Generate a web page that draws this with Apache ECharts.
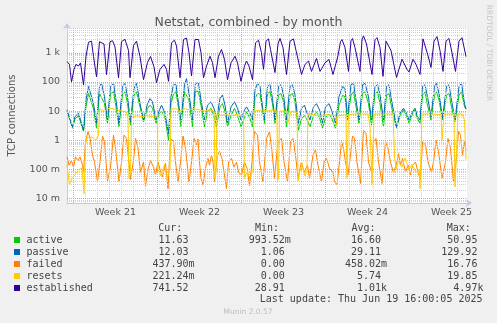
<!DOCTYPE html>
<html><head><meta charset="utf-8">
<script src="https://cdn.jsdelivr.net/npm/echarts@6/dist/echarts.min.js"></script>
<style>html,body{margin:0;padding:0;background:#f0f0f0}#c{width:497px;height:323px}</style>
</head><body><div id="c"></div>
<script>
// x values: hours from the start of the one-month window (left edge of the plot)
const windowHours = 800;
const weekLabels = ['Week 21', 'Week 22', 'Week 23', 'Week 24', 'Week 25'];
const weekLabelHours = [97, 265, 433, 601, 769];
const weekStartHours = [13, 181, 349, 517, 685];
const dayStartHours = [13,37,61,85,109,133,157,181,205,229,253,277,301,325,349,373,397,421,445,469,493,517,541,565,589,613,637,661,685,709,733,757,781];
const yTickValues = [0.01, 0.1, 1, 10, 100, 1000];
const yTickLabels = ['10 m', '100 m', '1', '10', '100', '1 k'];
const yMinLog = -2.15, yMaxLog = 3.85;

const active = [[0,10],[6,5],[11,2.6],[16,5.5],[23,7],[27,6],[33,2],[38,14],[43,40],[47,46],[53,12],[59,2.6],[65,40],[69,46],[75,18],[81,3.8],[87,40],[93,46],[98,14],[104,2.9],[111,38],[116,46],[121,18],[127,3.3],[134,35],[139,46],[146,14],[153,4.3],[161,12.5],[166,16],[171,12.5],[178,3.8],[185,8.5],[189,10],[196,6],[203,1.0],
[208,18],[213,40],[218,46],[223,12.5],[228,2.9],[235,46],[239,51],[244,24],[251,2.9],[257,50],[263,46],[268,16],[275,2.9],[281,9.5],[288,12.5],[295,6],[299,2.9],[306,14],[311,18],[316,9.5],[321,2.9],[328,7],[335,12.5],[341,7],[348,2.9],[355,6],[359,9.5],[366,5.5],[371,2.9],[376,27],[381,40],[386,40],[391,11],[395,3.8],
[401,40],[406,46],[411,18],[416,3.8],[423,35],[428,40],[433,21],[439,2.9],[446,35],[451,40],[456,21],[463,2.2],[469,5.5],[475,7],[479,5.5],[486,2.9],[493,7],[499,9.5],[505,6],[511,2.6],[517,6],[524,8],[529,6],[537,2.6],[544,16],[551,35],[556,31],[561,5],[568,35],[573,46],[577,18],[584,3.8],[591,40],[596,46],[603,18],[609,3.3],[616,40],[621,46],[626,18],[633,2.9],[639,35],[644,40],[649,14],[659,2.6],[666,7],[673,11],[679,7],[684,3.8],[691,8],[696,11],[701,5.5],[706,3.8],[711,35],[716,46],[721,16],[728,5],[735,35],[739,46],[744,24],[751,5],[759,35],[764,40],[769,14],[776,4.3],[784,35],[789,46],[795,14],[798,11.6]];

const passive = [[0,11],[6,5],[11,2.9],[16,6.5],[23,8.5],[27,7.4],[33,2.2],[38,24],[43,70],[47,80],[53,18],[59,3.8],[65,70],[69,90],[75,31],[81,5],[87,70],[93,90],[98,24],[104,3.8],[111,70],[116,90],[121,31],[127,4.3],[134,60],[139,90],[146,18],[153,5],[161,18],[166,27],[171,21],[178,5],[185,11],[189,16],[196,8.5],[203,1.7],
[208,31],[213,80],[218,80],[223,18],[228,5],[235,80],[239,130],[244,40],[251,5],[257,90],[263,90],[268,24],[275,5],[281,16],[288,21],[295,11],[299,5],[306,27],[311,36],[316,16],[321,3.8],[328,14],[335,21],[341,12.5],[348,5],[355,11],[359,14],[366,8.5],[371,5],[376,53],[381,90],[386,70],[391,14],[395,5],
[401,70],[406,80],[411,27],[416,5],[423,70],[428,80],[433,36],[439,5],[446,70],[451,80],[456,36],[463,3.8],[469,12.5],[475,16],[479,9.5],[486,5],[493,14],[499,18],[505,11],[511,3.8],[517,14],[524,18],[529,11],[537,3.8],[544,31],[551,70],[556,60],[561,6.5],[568,80],[573,90],[577,31],[584,5],[591,80],[596,90],[603,31],[609,5],[616,70],[621,80],[626,36],[633,5],[639,70],[644,80],[649,24],[659,2.9],[666,8.5],[673,12.5],[679,8.5],[684,5],[691,9.5],[696,12.5],[701,6.5],[706,5],[711,70],[716,80],[721,31],[728,6.5],[735,70],[739,90],[744,40],[751,5.7],[759,70],[764,80],[769,24],[776,5],[784,70],[789,90],[795,18],[798,12]];

const failed = [[0,0.27],[4,0.14],[9,0.2],[13,0.12],[17,0.27],[22,0.2],[26,0.27],[31,0.14],[33,0.08],[37,0.9],[42,2],[46,1.2],[51,0.31],[55,0.18],[61,0.038],[66,0.18],[71,1.4],[75,0.9],[81,0.04],[87,0.12],[93,1.5],[97,0.53],[104,0.038],[109,0.18],[114,1.5],[119,1.16],[124,0.16],[127,0.045],[133,0.2],[137,1.16],[142,0.53],[147,0.08],[153,0.18],[157,0.027],[162,0.1],[167,0.2],[173,0.12],[177,0.065],[182,0.18],[186,0.1],[191,0.055],[197,0.16],[202,0.022],
[207,1.16],[213,0.9],[217,0.18],[222,0.038],[227,0.18],[232,1.4],[237,0.53],[244,0.038],[249,0.18],[254,1.16],[259,0.69],[262,1.1],[265,0.18],[268,0.05],[272,0.03],[277,0.11],[282,0.24],[285,0.14],[289,0.31],[292,0.18],[295,0.038],[301,0.31],[305,0.41],[310,0.24],[314,0.08],[319,0.022],[323,0.18],[329,0.24],[334,0.12],[339,0.18],[343,0.08],[349,0.065],[355,0.18],[361,0.1],[365,0.027],[370,0.18],[375,2],[381,1.5],[385,0.18],[392,0.038],[399,1.16],[405,2],[410,0.41],[415,0.05],[422,0.9],[429,1.16],[434,0.18],[441,0.038],[447,0.9],[452,1.16],[457,0.31],[462,0.05],[469,0.18],[474,0.08],[481,0.14],[485,0.05],[492,0.31],[497,0.47],[502,0.14],[509,0.038],[514,0.18],[519,0.24],[525,0.11],[532,0.08],
[535,0.038],[540,0.03],[545,0.18],[549,0.9],[553,0.53],[557,0.18],[562,0.065],[567,0.31],[571,1.4],[575,1.16],[580,0.18],[587,0.033],[593,2.2],[598,1.7],[603,0.18],[609,0.08],[613,0.9],[618,1.16],[623,0.18],[630,0.033],[637,0.9],[642,0.53],[647,0.18],[653,0.075],[660,0.18],[663,0.35],[667,0.14],[671,0.24],[677,0.08],[682,0.14],[687,0.065],[691,0.14],[697,0.18],[702,0.08],[707,0.045],[711,0.9],[717,0.69],[722,0.18],[729,0.08],[733,0.18],[738,1],[743,0.41],[750,0.05],[757,0.18],[762,1.16],[767,0.53],[773,0.038],[778,0.18],[783,2],[787,1.5],[791,0.31],[795,0.9],[798,0.44]];

const resets = [[0,0.14],[5,0.03],[10,0.05],[17,0.07],[24,0.1],[30,0.11],[34,0.015],[37,0.69],[40,1.2],[50,1.3],[58,1.0],[63,1.5],[65,12],[75,10],[85,13],[92,12],[100,11],[110,10],[118,9.5],[122,5.6],[124,0.05],[127,0.08],[129,6],[140,7],[150,6.5],[160,7],[170,6.5],[181,7],[182,0.1],[188,0.06],[195,0.15],[200,0.05],[206,0.1],[208,12],[218,12],[226,10],[235,12],[245,11],[255,12],[265,11],[275,10],[285,11],[294,10],[296,0.05],[298,0.08],[300,8],[310,7],[320,7.5],[330,7],[340,7.5],[353,7],[355,0.05],[360,0.08],[366,0.05],[372,0.1],[374,10],[390,11],[400,10],[410,11],[420,10],[421,0.04],[423,0.05],[425,10],[440,10],[442,4],[446,4],[448,10],[460,9],[462,0.04],[465,0.08],[470,0.15],[476,0.06],[480,0.1],[482,8.5],[500,7],[520,7.5],[538,7],[540,3.3],[542,7],[558,7.5],[560,0.05],[563,7.5],[575,8],[590,8],[602,8],[606,3],[610,0.03],[614,8],[630,8],[652,8],[655,0.3],[658,0.1],[662,0.2],[670,0.12],[676,0.25],[684,0.1],[690,0.15],[698,0.08],[704,0.1],[706,0.022],[710,8],[730,8],[748,7.5],[750,1.0],[754,8],[774,8],[776,0.025],[782,8],[790,8],[795,5],[798,0.22]];

const established = [[0,500],[5,400],[9,100],[14,270],[18,400],[23,350],[27,450],[33,80],[38,750],[43,2300],[49,2500],[53,750],[59,150],[65,2400],[69,2600],[74,2000],[79,180],[86,2400],[91,2600],[96,1600],[103,140],[109,2400],[116,2900],[123,1200],[126,140],[133,1800],[139,2500],[146,750],[153,120],[161,470],[167,750],[174,330],[179,95],[186,270],[194,400],[199,270],[203,105],[209,2200],[215,2700],[219,1700],[226,140],[233,2850],[239,3200],[244,1000],[249,160],[256,2850],[263,2850],[268,1000],[273,140],[279,350],[286,760],[291,455],[296,140],[303,760],[309,1300],[315,590],[321,120],[328,455],[336,760],[341,455],[348,105],[355,350],[359,520],[364,350],[371,120],[377,2200],[383,2700],[389,1000],[393,270],[398,2500],[403,3000],[407,1300],[416,210],[422,2000],[426,3100],[432,1500],[439,180],[446,2500],[453,3000],[458,1200],[469,180],[476,400],[483,520],[489,230],[499,640],[506,230],[516,450],[524,590],[532,180],[542,800],[547,2400],[550,2850],[556,1500],[563,230],[568,2600],[571,3100],[576,1500],[586,230],[590,2800],[593,3800],[599,2000],[610,180],[616,2800],[620,3300],[626,1500],[632,155],[638,2500],[642,2850],[648,1200],[659,143],[670,600],[680,270],[684,220],[692,600],[698,400],[706,180],[712,3000],[716,3300],[722,800],[728,314],[734,2500],[740,3600],[746,1200],[752,230],[758,2500],[764,3100],[770,1000],[777,230],[784,2500],[790,3300],[798,742]];

const seriesNames = ['active', 'passive', 'failed', 'resets', 'established'];
const seriesColors = ['#00cc00', '#0066b3', '#ff8000', '#ffcc00', '#330099'];
const seriesData = [active, passive, failed, resets, established];
const curValues = ['11.63', '12.03', '437.90m', '221.24m', '741.52'];
const minValues = ['993.52m', '1.06', '0.00', '0.00', '28.91'];
const avgValues = ['16.60', '29.11', '458.02m', '5.74', '1.01k'];
const maxValues = ['50.95', '129.92', '16.76', '19.85', '4.97k'];
const lastUpdate = 'Last update: Thu Jun 19 16:00:05 2025';

const chart = echarts.init(document.getElementById('c'), null, {renderer: 'canvas'});

const minorStyle = {color: '#cfcfcf', type: 'dotted', width: 1};
const majorStyle = {color: '#e39a9a', type: 'dotted', width: 1};
const gridLines = [];
dayStartHours.forEach(h => { if (weekStartHours.indexOf(h) < 0) gridLines.push({xAxis: h, lineStyle: minorStyle}); });
for (let d = -3; d <= 3; d++) {
  for (let k = 2; k <= 9; k++) {
    const lv = d + Math.log10(k);
    if (lv > yMinLog && lv < yMaxLog) gridLines.push({yAxis: lv, lineStyle: minorStyle});
  }
}
weekStartHours.forEach(h => gridLines.push({xAxis: h, lineStyle: majorStyle}));
yTickValues.forEach(v => gridLines.push({yAxis: Math.log10(v), lineStyle: majorStyle}));

const series = [{
  name: 'grid', type: 'line', data: [], silent: true, z: 1,
  markLine: {silent: true, symbol: ['none', 'none'], label: {show: false}, animation: false,
    emphasis: {disabled: true}, data: gridLines}
}];
seriesData.forEach((d, i) => {
  series.push({
    name: seriesNames[i], type: 'line', showSymbol: false, symbol: 'none', z: 2 + i,
    lineStyle: {color: seriesColors[i], width: 1}, itemStyle: {color: seriesColors[i]},
    data: d.map(p => [p[0], Math.log10(p[1])]), animation: false, silent: true
  });
});

const mono = '10px "DejaVu Sans Mono"';
const txtColor = '#444';
const graphic = [
  {type: 'text', x: 12, y: 115.5, rotation: Math.PI / 2,
    style: {text: 'TCP connections', font: '10px "DejaVu Sans"', fill: '#555', textAlign: 'center', textVerticalAlign: 'middle'}},
  {type: 'text', x: 489, y: 53, rotation: -Math.PI / 2,
    style: {text: 'RRDTOOL / TOBI OETIKER', font: '7.5px "DejaVu Sans"', fill: '#c4c4c4', textAlign: 'center', textVerticalAlign: 'middle'}},
  {type: 'text', x: 158.3, y: 228.5, style: {text: 'Cur:', font: mono, fill: txtColor, textVerticalAlign: 'middle'}},
  {type: 'text', x: 255, y: 228.5, style: {text: 'Min:', font: mono, fill: txtColor, textVerticalAlign: 'middle'}},
  {type: 'text', x: 351.5, y: 228.5, style: {text: 'Avg:', font: mono, fill: txtColor, textVerticalAlign: 'middle'}},
  {type: 'text', x: 446.8, y: 228.5, style: {text: 'Max:', font: mono, fill: txtColor, textVerticalAlign: 'middle'}},
  {type: 'text', x: 482.5, y: 299.5, style: {text: lastUpdate, font: mono, fill: txtColor, textAlign: 'right', textVerticalAlign: 'middle'}},
  {type: 'text', x: 248, y: 312, style: {text: 'Munin 2.0.57', font: '7.5px "DejaVu Sans"', fill: '#bdbdbd', textAlign: 'center', textVerticalAlign: 'middle'}}
];
const colRight = [188.5, 284.8, 381.1, 477.4];
const rowY = [240, 252, 264, 276, 288];
function valueText(x, y, s) {
  const last = s.charAt(s.length - 1);
  const hasUnit = /[a-zA-Z]/.test(last);
  const num = hasUnit ? s.slice(0, -1) : s;
  const out = [{type: 'text', x: x, y: y, style: {text: num, font: mono, fill: txtColor, textAlign: 'right', textVerticalAlign: 'middle'}}];
  if (hasUnit) out.push({type: 'text', x: x, y: y, style: {text: last, font: mono, fill: txtColor, textAlign: 'left', textVerticalAlign: 'middle'}});
  return out;
}
seriesNames.forEach((n, i) => {
  const y = rowY[i];
  graphic.push({type: 'rect', shape: {x: 14, y: y - 3, width: 6, height: 6}, style: {fill: seriesColors[i]}});
  graphic.push({type: 'text', x: 26.5, y: y, style: {text: n, font: mono, fill: txtColor, textVerticalAlign: 'middle'}});
  [curValues, minValues, avgValues, maxValues].forEach((arr, c) => {
    valueText(colRight[c], y, arr[i]).forEach(g => graphic.push(g));
  });
});

chart.setOption({
  backgroundColor: '#f0f0f0',
  animation: false,
  title: {text: 'Netstat, combined - by month', left: 'center', top: 11,
    textStyle: {fontFamily: 'DejaVu Sans', fontSize: 12.5, fontWeight: 'normal', color: '#555'}},
  grid: {left: 67, top: 28, width: 400, height: 175, show: true, backgroundColor: '#ffffff', borderWidth: 0, containLabel: false},
  xAxis: {
    type: 'value', min: 0, max: windowHours,
    axisLine: {show: true, onZero: false, symbol: ['none', 'arrow'], symbolSize: [6, 6], symbolOffset: [0, 5], lineStyle: {color: '#c3c8e6', width: 1}},
    axisTick: {show: false},
    splitLine: {show: false},
    axisLabel: {customValues: weekLabelHours, margin: 5, fontFamily: 'DejaVu Sans', fontSize: 9.5, color: '#555',
      formatter: v => { const i = weekLabelHours.findIndex(h => Math.abs(h - v) < 1); return i >= 0 ? weekLabels[i] : ''; }}
  },
  yAxis: {
    type: 'value', min: yMinLog, max: yMaxLog,
    axisLine: {show: true, onZero: false, symbol: ['none', 'arrow'], symbolSize: [6, 6], symbolOffset: [0, 5], lineStyle: {color: '#c3c8e6', width: 1}},
    axisTick: {show: false},
    splitLine: {show: false},
    axisLabel: {customValues: yTickValues.map(v => Math.log10(v)), margin: 7, fontFamily: 'DejaVu Sans', fontSize: 9.5, color: '#555',
      formatter: v => { const i = yTickValues.findIndex(t => Math.abs(Math.log10(t) - v) < 0.01); return i >= 0 ? yTickLabels[i] : ''; }}
  },
  series: series,
  graphic: graphic
});
</script></body></html>
